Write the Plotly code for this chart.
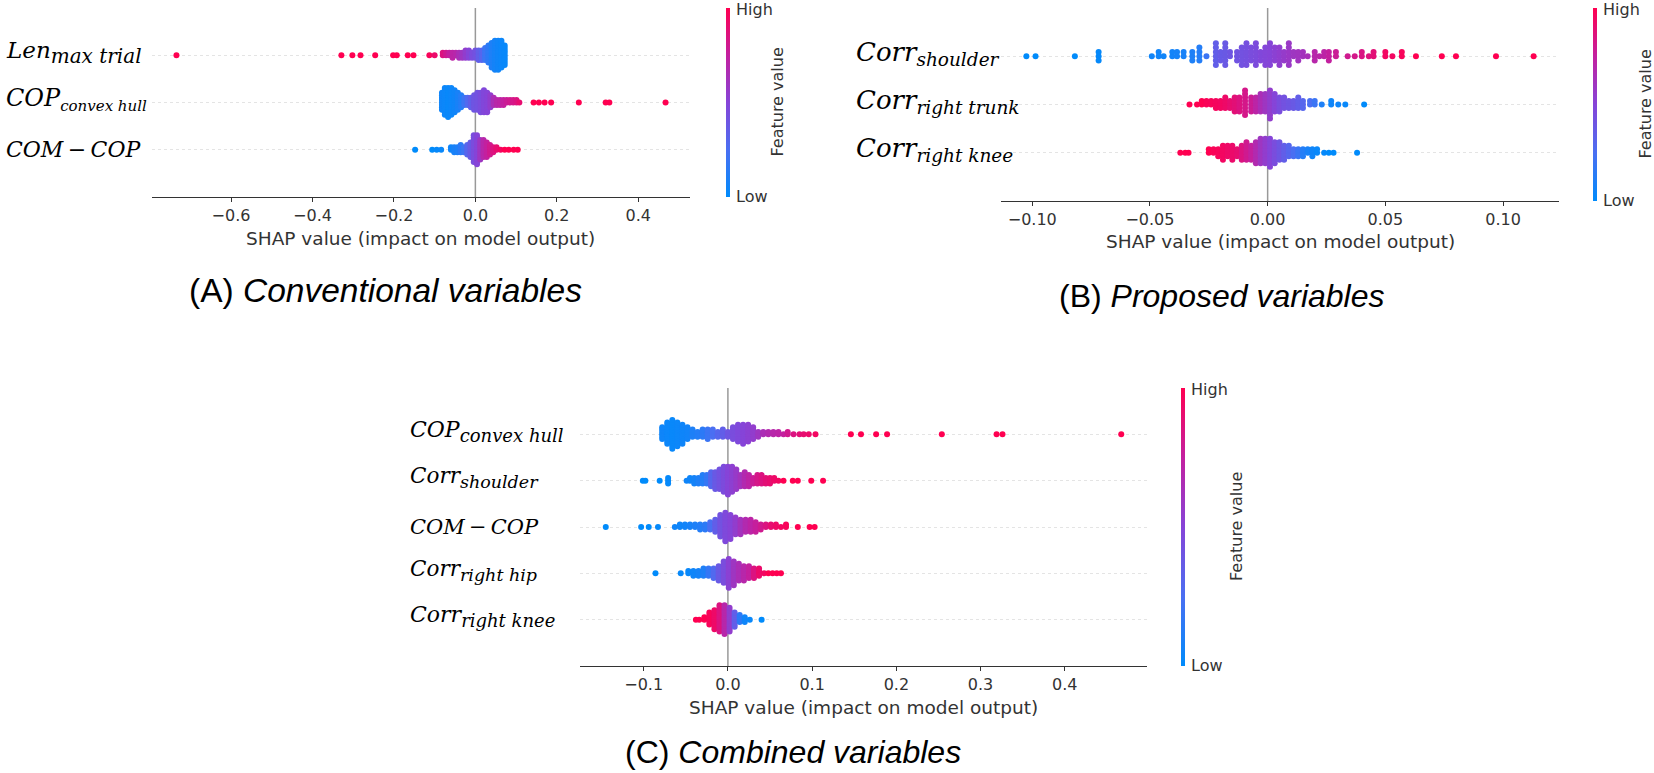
import math

import plotly.graph_objects as go

W, H = 1654, 773

# each swarm column: (SHAP value, number of stacked dots, feature value 0=low .. 1=high)
# (A) conventional variables, rows top to bottom
a_len_max_trial = [
    (-0.734, 1, 1.0), (-0.329, 1, 1.0), (-0.302, 1, 1.0), (-0.282, 1, 1.0), (-0.246, 1, 1.0),
    (-0.202, 1, 1.0), (-0.193, 1, 1.0), (-0.166, 1, 1.0), (-0.152, 1, 1.0), (-0.113, 1, 0.97),
    (-0.100, 1, 0.92), (-0.080, 2, 0.85), (-0.072, 2, 0.80), (-0.064, 2, 0.75), (-0.056, 3, 0.72),
    (-0.048, 2, 0.70), (-0.040, 3, 0.65), (-0.032, 3, 0.60), (-0.024, 4, 0.55), (-0.016, 4, 0.50),
    (-0.008, 3, 0.45), (0.000, 4, 0.42), (0.008, 5, 0.35), (0.016, 5, 0.30), (0.024, 6, 0.20),
    (0.032, 8, 0.15), (0.040, 11, 0.10), (0.048, 13, 0.07), (0.056, 13, 0.05), (0.064, 12, 0.04),
    (0.072, 9, 0.03),
]
a_cop_convex_hull = [
    (-0.082, 8, 0.05), (-0.075, 12, 0.04), (-0.067, 13, 0.03), (-0.059, 12, 0.04), (-0.051, 10, 0.05),
    (-0.043, 8, 0.08), (-0.035, 6, 0.12), (-0.027, 4, 0.20), (-0.019, 4, 0.28), (-0.011, 5, 0.35),
    (-0.003, 7, 0.40), (0.005, 8, 0.42), (0.013, 9, 0.45), (0.021, 10, 0.48), (0.029, 9, 0.50),
    (0.037, 6, 0.55), (0.045, 4, 0.65), (0.053, 3, 0.70), (0.061, 3, 0.72), (0.069, 3, 0.75),
    (0.077, 2, 0.78), (0.085, 2, 0.80), (0.093, 2, 0.82), (0.101, 2, 0.85), (0.108, 1, 0.90),
    (0.143, 1, 1.0), (0.156, 1, 1.0), (0.170, 1, 1.0), (0.186, 1, 1.0), (0.254, 1, 1.0),
    (0.320, 1, 1.0), (0.329, 1, 1.0), (0.467, 1, 1.0),
]
a_com_cop = [
    (-0.148, 1, 0.0), (-0.106, 1, 0.0), (-0.095, 1, 0.02), (-0.084, 1, 0.03), (-0.060, 2, 0.05),
    (-0.052, 3, 0.08), (-0.044, 3, 0.10), (-0.036, 4, 0.15), (-0.028, 3, 0.20), (-0.020, 5, 0.30),
    (-0.012, 7, 0.38), (-0.004, 12, 0.45), (0.004, 13, 0.50), (0.012, 9, 0.60), (0.020, 8, 0.70),
    (0.028, 7, 0.75), (0.036, 5, 0.80), (0.044, 3, 0.85), (0.052, 2, 0.90), (0.062, 1, 0.95),
    (0.072, 1, 1.0), (0.082, 1, 1.0), (0.094, 1, 1.0), (0.104, 1, 1.0),
]

# (B) proposed variables
b_corr_shoulder = [
    (-0.1025, 1, 0.0), (-0.0986, 1, 0.0), (-0.0819, 1, 0.0), (-0.0718, 3, 0.02), (-0.0492, 1, 0.05),
    (-0.0463, 2, 0.05), (-0.0442, 1, 0.05), (-0.0405, 2, 0.06), (-0.0385, 2, 0.07), (-0.0357, 2, 0.08),
    (-0.032, 3, 0.10), (-0.029, 4, 0.12), (-0.026, 1, 0.20), (-0.022, 6, 0.35), (-0.020, 3, 0.37),
    (-0.018, 6, 0.38), (-0.016, 2, 0.40), (-0.013, 3, 0.41), (-0.011, 5, 0.42), (-0.009, 6, 0.43),
    (-0.007, 4, 0.45), (-0.005, 6, 0.46), (-0.003, 3, 0.48), (-0.001, 5, 0.49), (0.001, 6, 0.50),
    (0.003, 4, 0.52), (0.005, 5, 0.54), (0.007, 3, 0.56), (0.009, 6, 0.58), (0.011, 2, 0.60),
    (0.013, 3, 0.61), (0.015, 2, 0.62), (0.017, 1, 0.64), (0.020, 3, 0.70), (0.022, 1, 0.71),
    (0.024, 2, 0.72), (0.026, 3, 0.75), (0.029, 2, 0.78), (0.034, 1, 0.80), (0.037, 1, 0.82),
    (0.040, 2, 0.84), (0.043, 1, 0.86), (0.045, 2, 0.88), (0.050, 2, 0.95), (0.053, 1, 0.95),
    (0.057, 2, 0.97), (0.063, 1, 1.0), (0.074, 1, 1.0), (0.080, 1, 1.0), (0.097, 1, 1.0),
    (0.113, 1, 1.0),
]
b_corr_right_trunk = [
    (-0.0332, 1, 1.0), (-0.030, 1, 1.0), (-0.028, 2, 1.0), (-0.026, 2, 0.98), (-0.024, 2, 0.97),
    (-0.022, 3, 0.96), (-0.020, 3, 0.95), (-0.018, 4, 0.93), (-0.016, 3, 0.90), (-0.014, 5, 0.88),
    (-0.012, 5, 0.85), (-0.0096, 8, 0.82), (-0.007, 5, 0.78), (-0.005, 5, 0.72), (-0.003, 6, 0.65),
    (-0.001, 6, 0.60), (0.001, 9, 0.55), (0.003, 6, 0.50), (0.005, 5, 0.45), (0.007, 4, 0.42),
    (0.009, 3, 0.40), (0.011, 3, 0.38), (0.013, 4, 0.35), (0.015, 3, 0.30), (0.018, 2, 0.25),
    (0.020, 2, 0.20), (0.023, 1, 0.10), (0.027, 2, 0.05), (0.030, 1, 0.05), (0.033, 1, 0.03),
    (0.041, 1, 0.0),
]
b_corr_right_knee = [
    (-0.0371, 1, 1.0), (-0.0350, 1, 1.0), (-0.0336, 1, 1.0), (-0.025, 2, 1.0), (-0.023, 2, 0.98),
    (-0.021, 3, 0.97), (-0.019, 5, 0.95), (-0.017, 4, 0.93), (-0.015, 5, 0.92), (-0.013, 3, 0.90),
    (-0.011, 5, 0.85), (-0.009, 6, 0.80), (-0.007, 5, 0.75), (-0.005, 7, 0.68), (-0.003, 8, 0.60),
    (-0.001, 8, 0.55), (0.001, 9, 0.50), (0.003, 7, 0.45), (0.005, 6, 0.40), (0.007, 5, 0.35),
    (0.009, 4, 0.30), (0.011, 3, 0.25), (0.013, 3, 0.20), (0.015, 3, 0.12), (0.017, 2, 0.08),
    (0.019, 3, 0.05), (0.021, 2, 0.03), (0.024, 1, 0.02), (0.026, 1, 0.0), (0.028, 1, 0.0),
    (0.038, 1, 0.0),
]

# (C) combined variables
c_cop_convex_hull = [
    (-0.078, 6, 0.05), (-0.072, 10, 0.04), (-0.066, 13, 0.03), (-0.060, 11, 0.04), (-0.054, 9, 0.05),
    (-0.048, 6, 0.06), (-0.042, 4, 0.10), (-0.036, 3, 0.12), (-0.030, 4, 0.15), (-0.024, 5, 0.20),
    (-0.018, 4, 0.25), (-0.012, 3, 0.30), (-0.006, 4, 0.35), (0.000, 3, 0.40), (0.006, 6, 0.45),
    (0.012, 8, 0.47), (0.018, 9, 0.50), (0.024, 8, 0.52), (0.030, 6, 0.55), (0.036, 3, 0.60),
    (0.042, 2, 0.65), (0.048, 2, 0.68), (0.054, 2, 0.70), (0.060, 2, 0.72), (0.066, 1, 0.75),
    (0.071, 2, 0.80), (0.078, 1, 0.85), (0.085, 1, 0.88), (0.090, 1, 0.90), (0.096, 1, 0.92),
    (0.104, 1, 0.95), (0.146, 1, 1.0), (0.158, 1, 1.0), (0.176, 1, 1.0), (0.189, 1, 1.0),
    (0.254, 1, 1.0), (0.319, 1, 1.0), (0.326, 1, 1.0), (0.467, 1, 1.0),
]
c_corr_shoulder = [
    (-0.101, 1, 0.0), (-0.098, 1, 0.0), (-0.081, 1, 0.0), (-0.071, 3, 0.02), (-0.049, 1, 0.05),
    (-0.045, 2, 0.05), (-0.040, 3, 0.07), (-0.035, 3, 0.10), (-0.030, 4, 0.12), (-0.025, 4, 0.18),
    (-0.020, 6, 0.30), (-0.015, 7, 0.38), (-0.010, 8, 0.42), (-0.005, 10, 0.46), (0.000, 11, 0.50),
    (0.005, 10, 0.53), (0.010, 8, 0.57), (0.015, 5, 0.62), (0.020, 6, 0.68), (0.025, 5, 0.72),
    (0.030, 3, 0.78), (0.035, 4, 0.82), (0.040, 4, 0.85), (0.045, 3, 0.88), (0.050, 3, 0.90),
    (0.055, 2, 0.93), (0.060, 1, 0.95), (0.066, 1, 1.0), (0.077, 1, 1.0), (0.083, 1, 1.0),
    (0.099, 1, 1.0), (0.113, 1, 1.0),
]
c_com_cop = [
    (-0.145, 1, 0.0), (-0.103, 1, 0.0), (-0.094, 1, 0.0), (-0.083, 1, 0.02), (-0.063, 1, 0.05),
    (-0.057, 2, 0.05), (-0.051, 2, 0.06), (-0.045, 2, 0.08), (-0.039, 2, 0.10), (-0.033, 3, 0.12),
    (-0.027, 3, 0.15), (-0.021, 4, 0.25), (-0.015, 6, 0.35), (-0.009, 10, 0.42), (-0.003, 13, 0.47),
    (0.003, 11, 0.50), (0.009, 8, 0.55), (0.015, 7, 0.62), (0.021, 6, 0.68), (0.027, 6, 0.72),
    (0.033, 5, 0.76), (0.039, 3, 0.80), (0.045, 2, 0.85), (0.051, 2, 0.90), (0.057, 2, 0.93),
    (0.063, 1, 0.95), (0.069, 2, 0.97), (0.083, 1, 1.0), (0.097, 1, 1.0), (0.103, 1, 1.0),
]
c_corr_right_hip = [
    (-0.086, 1, 0.0), (-0.056, 1, 0.02), (-0.047, 2, 0.03), (-0.041, 3, 0.05), (-0.035, 3, 0.07),
    (-0.029, 4, 0.10), (-0.023, 4, 0.18), (-0.017, 5, 0.28), (-0.011, 7, 0.38), (-0.005, 10, 0.45),
    (0.001, 13, 0.52), (0.007, 11, 0.60), (0.013, 8, 0.65), (0.019, 7, 0.70), (0.025, 6, 0.75),
    (0.031, 5, 0.85), (0.037, 4, 0.92), (0.043, 1, 0.95), (0.048, 1, 1.0), (0.053, 1, 1.0),
    (0.058, 1, 1.0), (0.063, 1, 1.0),
]
c_corr_right_knee = [
    (-0.038, 1, 1.0), (-0.034, 1, 1.0), (-0.028, 2, 1.0), (-0.022, 6, 0.97), (-0.016, 9, 0.93),
    (-0.010, 12, 0.85), (-0.004, 13, 0.70), (0.002, 11, 0.55), (0.008, 7, 0.35), (0.014, 4, 0.15),
    (0.020, 3, 0.05), (0.026, 1, 0.03), (0.040, 1, 0.0),
]

# feature labels: (main text, subscript); thin spaces round the minus sign
a_labels = [("Len", "max trial"), ("COP", "convex hull"), ("COM\u2009−\u2009COP", "")]
b_labels = [("Corr", "shoulder"), ("Corr", "right trunk"), ("Corr", "right knee")]
c_labels = [("COP", "convex hull"), ("Corr", "shoulder"), ("COM\u2009−\u2009COP", ""),
            ("Corr", "right hip"), ("Corr", "right knee")]

a_ticks = [-0.6, -0.4, -0.2, 0.0, 0.2, 0.4]
a_ticktext = ["−0.6", "−0.4", "−0.2", "0.0", "0.2", "0.4"]
b_ticks = [-0.10, -0.05, 0.0, 0.05, 0.10]
b_ticktext = ["−0.10", "−0.05", "0.00", "0.05", "0.10"]
c_ticks = [-0.1, 0.0, 0.1, 0.2, 0.3, 0.4]
c_ticktext = ["−0.1", "0.0", "0.1", "0.2", "0.3", "0.4"]

titles = ["(A) <i>Conventional variables</i>", "(B) <i>Proposed variables</i>",
          "(C) <i>Combined variables</i>"]

# shap red_blue colormap
red_blue = [[0.0, "#008bfb"], [0.25, "#4a6ff2"], [0.5, "#8644d8"], [0.75, "#c3209f"], [1.0, "#ff0051"]]

AXIS_COLOR = "#333333"


def px_x(p):
    return p / W


def px_y(p):
    return 1 - p / H


def swarm(row, pos):
    """Stack dots like shap's beeswarm: alternate above/below the row line."""
    xs, ys, cs = [], [], []
    for shap_val, n, feat in row:
        for layer in range(n):
            ys.append(math.ceil(layer / 2) * ((layer % 2) * 2 - 1))
            xs.append(shap_val)
            cs.append(feat)
    top = max(ys) + 1
    ys = [pos + y * 0.9 * 0.4 / top for y in ys]
    return xs, ys, cs


# panel geometry in pixels: x0, x1, ytop, ybottom
panels = [
    dict(rows=[a_len_max_trial, a_cop_convex_hull, a_com_cop], labels=a_labels,
         sizes=[(23, 20), (24, 15), (22, 15)],
         ticks=a_ticks, ticktext=a_ticktext, box=(152, 690, 8, 197), lab_x=4,
         cbar_x=728, fv_x=777, title_xy=(385, 290), title_size=33.5),
    dict(rows=[b_corr_shoulder, b_corr_right_trunk, b_corr_right_knee], labels=b_labels,
         sizes=[(26, 18.5), (26, 18.5), (26, 18.5)],
         ticks=b_ticks, ticktext=b_ticktext, box=(1001, 1559, 8, 201), lab_x=854,
         cbar_x=1595, fv_x=1645, title_xy=(1221, 296), title_size=32),
    dict(rows=[c_cop_convex_hull, c_corr_shoulder, c_com_cop, c_corr_right_hip, c_corr_right_knee],
         labels=c_labels, sizes=[(22, 18), (21.5, 17.5), (21, 15), (21.5, 17.5), (22, 18)],
         ticks=c_ticks, ticktext=c_ticktext, box=(580, 1147, 388, 666), lab_x=408,
         cbar_x=1183, fv_x=1236, title_xy=(793, 752), title_size=32),
]

fig = go.Figure()
annotations = []
shapes = []
layout = {}

for i, p in enumerate(panels):
    ax = "" if i == 0 else str(i + 1)
    xname, yname = "x" + ax, "y" + ax
    x0, x1, yt, yb = p["box"]
    n = len(p["rows"])

    allvals = [v for row in p["rows"] for v, _, _ in row]
    lo, hi = min(allvals), max(allvals)
    pad = 0.05 * (hi - lo)

    layout["xaxis" + ax] = dict(
        domain=[px_x(x0), px_x(x1)], range=[lo - pad, hi + pad], anchor=yname,
        showline=True, linecolor=AXIS_COLOR, linewidth=1.2, ticks="outside", ticklen=4,
        tickcolor=AXIS_COLOR, tickvals=p["ticks"], ticktext=p["ticktext"],
        tickfont=dict(family="DejaVu Sans", size=16, color=AXIS_COLOR),
        showgrid=False, zeroline=False, fixedrange=True,
    )
    layout["yaxis" + ax] = dict(
        domain=[px_y(yb), px_y(yt)], range=[-1, n], anchor=xname,
        tickvals=list(range(n)), showticklabels=False, ticks="",
        showgrid=True, gridcolor="#e4e4e4", gridwidth=0.6, griddash="dot",
        zeroline=False, showline=False, fixedrange=True,
    )

    # vertical line at zero
    shapes.append(dict(type="line", xref=xname, yref=yname + " domain", x0=0, x1=0, y0=0, y1=1,
                       line=dict(color="#999999", width=1.5), layer="below"))

    for r, row in enumerate(p["rows"]):
        pos = n - 1 - r
        xs, ys, cs = swarm(row, pos)
        marker = dict(size=6, color=cs, colorscale=red_blue, cmin=0, cmax=1, line=dict(width=0))
        if r == 0:
            marker["showscale"] = True
            marker["colorbar"] = dict(
                x=px_x(p["cbar_x"]), xanchor="center", y=px_y((yt + yb) / 2), yanchor="middle",
                len=yb - yt, lenmode="pixels", thickness=4, outlinewidth=0,
                xpad=0, ypad=0, showticklabels=False, ticks="",
            )
        fig.add_trace(go.Scatter(x=xs, y=ys, mode="markers", marker=marker,
                                 xaxis=xname, yaxis=yname, showlegend=False, hoverinfo="x"))

        main, sub = p["labels"][r]
        msize, ssize = p["sizes"][r]
        text = main
        if sub:
            text += f"<sub><span style='font-size:{ssize}px'>{sub}</span></sub>"
        annotations.append(dict(
            text=text, xref="paper", yref=yname, x=px_x(p["lab_x"]), y=pos,
            xanchor="left", yanchor="middle", showarrow=False, yshift=3 if sub else 0,
            font=dict(family="DejaVu Serif", size=msize, color="black", style="italic"),
        ))

    # axis title
    annotations.append(dict(
        text="SHAP value (impact on model output)", xref="paper", yref="paper",
        x=px_x((x0 + x1) / 2), y=px_y(yb + 41), xanchor="center", yanchor="middle",
        showarrow=False, font=dict(family="DejaVu Sans", size=18.5, color=AXIS_COLOR),
    ))
    # colorbar labels
    for txt, yy in (("High", yt + 1), ("Low", yb - 1)):
        annotations.append(dict(
            text=txt, xref="paper", yref="paper", x=px_x(p["cbar_x"] + 6), y=px_y(yy),
            xanchor="left", yanchor="middle", showarrow=False,
            font=dict(family="DejaVu Sans", size=16, color=AXIS_COLOR),
        ))
    annotations.append(dict(
        text="Feature value", xref="paper", yref="paper", x=px_x(p["fv_x"]),
        y=px_y((yt + yb) / 2), xanchor="center", yanchor="middle", textangle=-90,
        showarrow=False, font=dict(family="DejaVu Sans", size=16, color=AXIS_COLOR),
    ))
    # panel title
    tx, ty = p["title_xy"]
    annotations.append(dict(
        text=titles[i], xref="paper", yref="paper", x=px_x(tx), y=px_y(ty),
        xanchor="center", yanchor="middle", showarrow=False,
        font=dict(family="Liberation Sans", size=p["title_size"], color="black"),
    ))

fig.update_layout(
    width=W, height=H, margin=dict(l=0, r=0, t=0, b=0),
    paper_bgcolor="white", plot_bgcolor="white",
    annotations=annotations, shapes=shapes, **layout,
)

# drop the browser's default body margin so the figure sits at the page corner
fig.write_html(
    "out.html",
    config={"displayModeBar": False},
    post_script="document.body.style.margin='0';document.body.style.overflow='hidden';",
)
